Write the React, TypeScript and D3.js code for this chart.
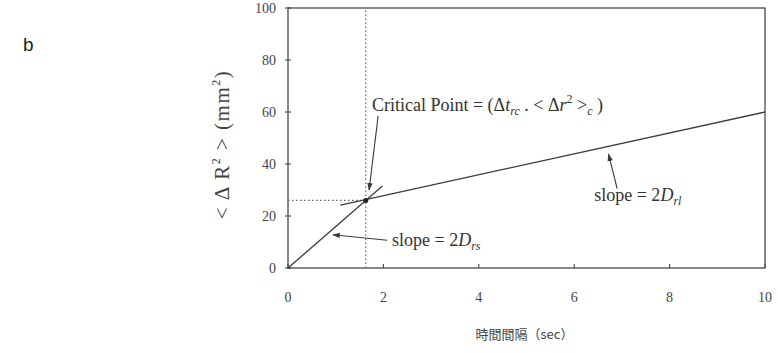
import { useEffect, useRef } from 'react';
import * as d3 from 'd3';

// axis ticks
const timeTicks = [0, 2, 4, 6, 8, 10];
const msdTicks = [0, 20, 40, 60, 80, 100];

// short-time (steep) regime line
const steepTime = [0, 1.98];
const steepMsd = [0, 31.5];

// long-time (shallow) regime line
const shallowTime = [1.1, 10];
const shallowMsd = [24.2, 60];

// critical point where both lines cross
const criticalTime = 1.63;
const criticalMsd = 26;

const width = 778;
const height = 353;

export default function App() {
  const svgRef = useRef<SVGSVGElement | null>(null);

  useEffect(() => {
    if (!svgRef.current) return;
    const svg = d3.select(svgRef.current);
    svg.selectAll('*').remove();

    const x = d3.scaleLinear().domain([0, 10]).range([288, 765]);
    const y = d3.scaleLinear().domain([0, 100]).range([268, 8]);
    const ink = '#3a3a3a';
    const serif = '"Liberation Serif", "DejaVu Serif", serif';

    svg.append('rect').attr('width', width).attr('height', height).attr('fill', '#fff');

    // panel letter
    svg.append('text')
      .attr('x', 23).attr('y', 51)
      .attr('font-family', 'Arial, "Liberation Sans", sans-serif')
      .attr('font-size', 19).attr('fill', '#222')
      .text('b');

    // frame
    svg.append('rect')
      .attr('x', x(0)).attr('y', y(100))
      .attr('width', x(10) - x(0)).attr('height', y(0) - y(100))
      .attr('fill', 'none').attr('stroke', ink).attr('stroke-width', 1.2);

    // y ticks (cross the axis)
    const yAxis = svg.append('g');
    msdTicks.forEach(v => {
      yAxis.append('line')
        .attr('x1', x(0) - 3).attr('x2', x(0) + 3)
        .attr('y1', y(v)).attr('y2', y(v))
        .attr('stroke', ink);
      yAxis.append('text')
        .attr('x', x(0) - 12).attr('y', y(v) + 5)
        .attr('text-anchor', 'end')
        .attr('font-family', serif).attr('font-size', 14).attr('fill', '#444')
        .text(v);
    });

    // x ticks (inward)
    const xAxis = svg.append('g');
    timeTicks.forEach(v => {
      xAxis.append('line')
        .attr('x1', x(v)).attr('x2', x(v))
        .attr('y1', y(0)).attr('y2', y(0) - 4)
        .attr('stroke', ink);
      xAxis.append('text')
        .attr('x', x(v)).attr('y', y(0) + 34)
        .attr('text-anchor', 'middle')
        .attr('font-family', serif).attr('font-size', 14).attr('fill', '#444')
        .text(v);
    });

    // dotted guides through the critical point
    svg.append('line')
      .attr('x1', x(criticalTime)).attr('x2', x(criticalTime))
      .attr('y1', y(0)).attr('y2', y(100))
      .attr('stroke', '#666').attr('stroke-width', 1.2)
      .attr('stroke-dasharray', '1.5,2.5');
    svg.append('line')
      .attr('x1', x(0)).attr('x2', x(criticalTime))
      .attr('y1', y(criticalMsd)).attr('y2', y(criticalMsd))
      .attr('stroke', '#666').attr('stroke-width', 1.2)
      .attr('stroke-dasharray', '1.5,2.5');

    const line = d3.line<[number, number]>().x(d => x(d[0])).y(d => y(d[1]));
    const steep = d3.zip(steepTime, steepMsd) as [number, number][];
    const shallow = d3.zip(shallowTime, shallowMsd) as [number, number][];

    svg.append('path').attr('d', line(steep))
      .attr('fill', 'none').attr('stroke', ink).attr('stroke-width', 1.3);
    svg.append('path').attr('d', line(shallow))
      .attr('fill', 'none').attr('stroke', ink).attr('stroke-width', 1.3);

    svg.append('circle')
      .attr('cx', x(criticalTime)).attr('cy', y(criticalMsd))
      .attr('r', 2.5).attr('fill', '#222');

    // annotation arrows
    const defs = svg.append('defs');
    defs.append('marker')
      .attr('id', 'head').attr('viewBox', '0 0 10 10')
      .attr('refX', 9).attr('refY', 5)
      .attr('markerWidth', 7).attr('markerHeight', 7)
      .attr('orient', 'auto')
      .append('path').attr('d', 'M0,1.5 L10,5 L0,8.5 Z').attr('fill', ink);

    const arrow = (from: [number, number], to: [number, number]) =>
      svg.append('line')
        .attr('x1', x(from[0])).attr('y1', y(from[1]))
        .attr('x2', x(to[0])).attr('y2', y(to[1]))
        .attr('stroke', ink).attr('stroke-width', 1.1)
        .attr('marker-end', 'url(#head)');

    arrow([1.89, 58.5], [1.7, 30]);
    arrow([2.08, 10.7], [0.94, 12.8]);
    arrow([6.9, 30.5], [6.72, 43.8]);

    const label = (t: number, m: number) =>
      svg.append('text')
        .attr('x', x(t)).attr('y', y(m))
        .attr('font-family', serif).attr('font-size', 18).attr('fill', '#333');

    const crit = label(1.76, 60.5);
    crit.append('tspan').text('Critical Point = (\u0394');
    crit.append('tspan').attr('font-style', 'italic').text('t');
    crit.append('tspan').attr('font-style', 'italic').attr('font-size', 12).attr('dy', 4).text('rc');
    crit.append('tspan').attr('dy', -4).text(' . < \u0394');
    crit.append('tspan').attr('font-style', 'italic').text('r');
    crit.append('tspan').attr('font-size', 12).attr('dy', -8).text('2');
    crit.append('tspan').attr('dy', 8).text('  >');
    crit.append('tspan').attr('font-style', 'italic').attr('font-size', 12).attr('dy', 4).text('c');
    crit.append('tspan').attr('dy', -4).text(' )');

    const rs = label(2.18, 8.5);
    rs.append('tspan').text('slope = 2');
    rs.append('tspan').attr('font-style', 'italic').text('D');
    rs.append('tspan').attr('font-style', 'italic').attr('font-size', 12).attr('dy', 4).text('rs');

    const rl = label(6.42, 25.8);
    rl.append('tspan').text('slope = 2');
    rl.append('tspan').attr('font-style', 'italic').text('D');
    rl.append('tspan').attr('font-style', 'italic').attr('font-size', 12).attr('dy', 4).text('rl');

    // axis titles
    const yTitle = svg.append('text')
      .attr('transform', `translate(229, ${y(47.5)}) rotate(-90)`)
      .attr('text-anchor', 'middle')
      .attr('letter-spacing', 1.5)
      .attr('font-family', serif).attr('font-size', 21).attr('fill', '#444');
    yTitle.append('tspan').text('< \u0394 R');
    yTitle.append('tspan').attr('font-size', 12).attr('dy', -9).text('2');
    yTitle.append('tspan').attr('dy', 9).text(' > (mm');
    yTitle.append('tspan').attr('font-size', 12).attr('dy', -9).text('2');
    yTitle.append('tspan').attr('dy', 9).text(')');

    svg.append('text')
      .attr('x', x(5) - 2).attr('y', 339)
      .attr('text-anchor', 'middle')
      .attr('font-family', '"Noto Sans CJK JP", sans-serif')
      .attr('font-size', 13).attr('fill', '#444')
      .text('時間間隔（sec）');
  }, []);

  return (
    <svg
      ref={svgRef}
      width={width}
      height={height}
      style={{ position: 'absolute', left: 0, top: 0 }}
    />
  );
}
